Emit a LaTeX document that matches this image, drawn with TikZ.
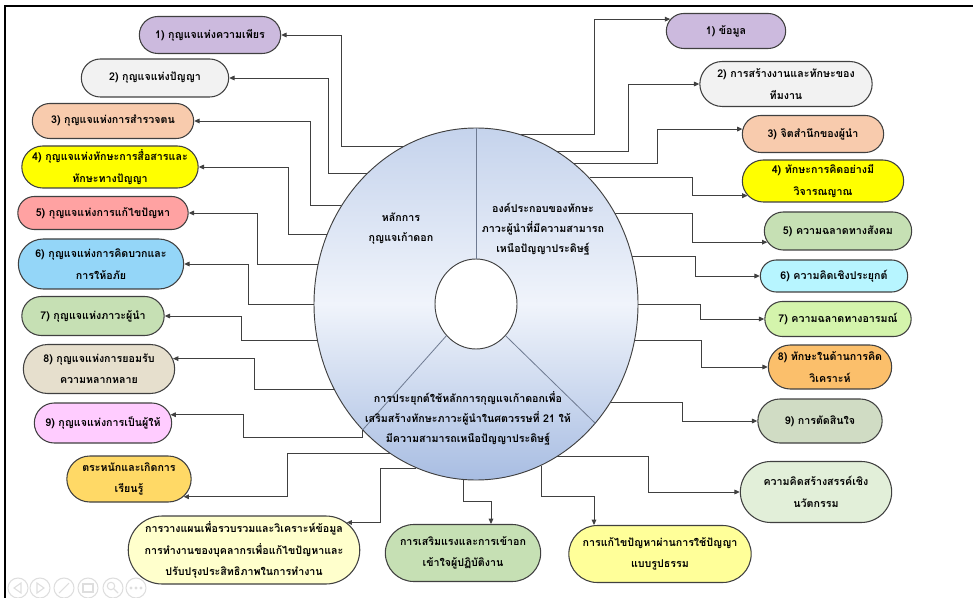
\documentclass[tikz,border=0pt]{standalone}
\usepackage{fontspec}
\setmainfont[Script=Thai]{Loma}
\usetikzlibrary{shapes.geometric,shapes.misc,arrows.meta}

\definecolor{keypurple}{RGB}{204,186,222}
\definecolor{keygray}{RGB}{242,242,242}
\definecolor{keysalmon}{RGB}{248,203,173}
\definecolor{keyyellow}{RGB}{255,255,0}
\definecolor{keyred}{RGB}{255,162,162}
\definecolor{keysky}{RGB}{148,214,248}
\definecolor{keygreen}{RGB}{198,224,180}
\definecolor{keytan}{RGB}{230,223,205}
\definecolor{keypink}{RGB}{255,204,255}
\definecolor{keygold}{RGB}{255,217,102}
\definecolor{keycream}{RGB}{255,255,204}
\definecolor{keylemon}{RGB}{255,255,153}
\definecolor{keymint}{RGB}{226,239,217}
\definecolor{keycyan}{RGB}{183,245,255}
\definecolor{keylime}{RGB}{212,244,172}
\definecolor{keyorange}{RGB}{251,191,107}
\definecolor{keysage}{RGB}{208,220,196}
\definecolor{disktop}{RGB}{197,211,236}
\definecolor{diskmiddle}{RGB}{240,244,251}
\definecolor{diskbottom}{RGB}{168,189,226}
\definecolor{linegray}{RGB}{64,64,64}
\definecolor{controlgray}{RGB}{222,222,222}

\tikzset{
  keybox/.style={rounded rectangle, draw=linegray, line width=0.8pt, fill=#1, align=center, inner sep=1pt,
    font=\fontsize{8}{16}\selectfont\bfseries},
  boxsize/.style 2 args={minimum width=#1*0.75pt, minimum height=#2*0.75pt},
  link/.style={draw=linegray, line width=0.7pt, -{Triangle[length=4pt,width=3.5pt]}},
  divider/.style={draw={rgb,255:red,110;green,122;blue,145}, line width=0.6pt},
  disktext/.style={align=center, inner sep=0pt, font=\fontsize{8}{15}\selectfont\bfseries},
  control/.style={draw=controlgray, line width=0.8pt}
}

\begin{document}
\begin{tikzpicture}[x=0.75pt,y=0.75pt,yscale=-1,xscale=1]
\useasboundingbox (0,0) rectangle (973,598);

%Straight Lines: slide frame
\draw [line width=1.5pt] (5,598) -- (5,6) -- (973,6) ;
%Shape: Circle, slide controls
\foreach \cx in {18,40,64,88,113,136}
  \draw [control] (\cx,588) circle [radius=7.5pt] ;
\draw [control] (21,583) -- (14,588) -- (21,593) -- cycle ;
\draw [control] (37,583) -- (44,588) -- (37,593) -- cycle ;
\draw [control] (59,593) -- (69,583) ;
\draw [control] (83,584) rectangle (93,592) ;
\draw [control] (111,586) circle [radius=2.8pt] (114,589) -- (118,593) ;
\foreach \dx in {131,136,141}
  \fill [controlgray] (\dx,588) circle [radius=1.2pt] ;

%Shape: Ellipse
\node [ellipse, draw=linegray, line width=0.7pt, inner sep=0pt, minimum width=324*0.75pt, minimum height=352*0.75pt,
  top color=disktop, bottom color=diskbottom, middle color=diskmiddle] (disk) at (476,304) {};
%Shape: Circle
\node [ellipse, draw=linegray, line width=0.7pt, fill=white, inner sep=0pt, minimum width=82*0.75pt, minimum height=90*0.75pt] (hole) at (476,304) {};
%Straight Lines
\draw [divider] (disk.north) -- (hole.north) ;
\draw [divider] (hole.227) -- (disk.228) ;
\draw [divider] (hole.313) -- (disk.315) ;

% Text Node
\node [disktext] (keys) at (401,229) {หลักการ\\กุญแจเก้าดอก};
% Text Node
\node [disktext] (parts) at (543,229) {องค์ประกอบของทักษะ\\ภาวะผู้นำที่มีความสามารถ\\เหนือปัญญาประดิษฐ์};
% Text Node
\node [disktext] (apply) at (468,418) {การประยุกต์ใช้หลักการกุญแจเก้าดอกเพื่อ\\เสริมสร้างทักษะภาวะผู้นำในศตวรรษที่ 21 ให้\\มีความสามารถเหนือปัญญาประดิษฐ์};

%Shape: Rounded Rectangle (left)
\node [keybox=keypurple, boxsize={144}{37}] (l1) at (210,35) {1) กุญแจแห่งความเพียร};
\node [keybox=keygray, boxsize={150}{38}] (l2) at (155,78) {2) กุญแจแห่งปัญญา};
\node [keybox=keysalmon, boxsize={164}{35}] (l3) at (113,121) {3) กุญแจแห่งการสำรวจตน};
\node [keybox=keyyellow, boxsize={179}{42}] (l4) at (110,167) {4) กุญแจแห่งทักษะการสื่อสารและ\\ทักษะทางปัญญา};
\node [keybox=keyred, boxsize={173}{33}] (l5) at (103,213) {5) กุญแจแห่งการแก้ไขปัญหา};
\node [keybox=keysky, boxsize={168}{50}] (l6) at (101,264) {6) กุญแจแห่งการคิดบวกและ\\การให้อภัย};
\node [keybox=keygreen, boxsize={145}{39}] (l7) at (93,316) {7) กุญแจแห่งภาวะผู้นำ};
\node [keybox=keytan, boxsize={154}{49}] (l8) at (99,369) {8) กุญแจแห่งการยอมรับ\\ความหลากหลาย};
\node [keybox=keypink, boxsize={140}{40}] (l9) at (103,423) {9) กุญแจแห่งการเป็นผู้ให้};
\node [keybox=keygold, boxsize={127}{46}] (l10) at (129,479) {ตระหนักและเกิดการ\\เรียนรู้};
\node [keybox=keycream, boxsize={231}{68}] (l11) at (244,550) {การวางแผนเพื่อรวบรวมและวิเคราะห์ข้อมูล\\การทำงานของบุคลากรเพื่อแก้ไขปัญหาและ\\ปรับปรุงประสิทธิภาพในการทำงาน};
%Shape: Rounded Rectangle (bottom)
\node [keybox=keygreen, boxsize={158}{57}] (b12) at (463,553) {การเสริมแรงและการเข้าอก\\เข้าใจผู้ปฏิบัติงาน};
\node [keybox=keylemon, boxsize={185}{57}] (b13) at (660,554) {การแก้ไขปัญหาผ่านการใช้ปัญญา\\แบบรูปธรรม};
\node [keybox=keymint, boxsize={154}{61}] (b14) at (816,492) {ความคิดสร้างสรรค์เชิง\\นวัตกรรม};
%Shape: Rounded Rectangle (right)
\node [keybox=keypurple, boxsize={122}{35}] (r1) at (726,31) {1) ข้อมูล};
\node [keybox=keygray, boxsize={175}{45}] (r2) at (786,84) {2) การสร้างงานและทักษะของ\\ทีมงาน};
\node [keybox=keysalmon, boxsize={144}{37}] (r3) at (813,134) {3) จิตสำนึกของผู้นำ};
\node [keybox=keyyellow, boxsize={164}{42}] (r4) at (823,181) {4) ทักษะการคิดอย่างมี\\วิจารณญาณ};
\node [keybox=keygreen, boxsize={150}{38}] (r5) at (838,231) {5) ความฉลาดทางสังคม};
\node [keybox=keycyan, boxsize={150}{32}] (r6) at (834,276) {6) ความคิดเชิงประยุกต์};
\node [keybox=keylime, boxsize={149}{35}] (r7) at (838,319) {7) ความฉลาดทางอารมณ์};
\node [keybox=keyorange, boxsize={126}{44}] (r8) at (830,367) {8) ทักษะในด้านการคิด\\วิเคราะห์};
\node [keybox=keysage, boxsize={127}{44}] (r9) at (820,421) {9) การตัดสินใจ};

%Straight Lines (left)
\draw [link] (disk.115) -- (disk.115 -| 341,0) |- (l1.east) ;
\draw [link] (disk.130) -- (disk.130 -| 328,0) |- (l2.east) ;
\draw [link] (disk.144) -- (disk.144 -| 310,0) |- (l3.east) ;
\draw [link] (disk.155) -- (disk.155 -| 288,0) |- (l4.east) ;
\draw [link] (disk.166) -- (disk.166 -| 257,0) |- (l5.east) ;
\draw [link] (disk.west) -- (disk.west -| 248,0) |- (l6.east) ;
\draw [link] (disk.193) -- (disk.193 -| 241,0) |- (l7.east) ;
\draw [link] (disk.211) -- (disk.211 -| 254,0) |- (l8.8) ;
\draw [link] (disk.228) |- (243,437) |- (l9.7) ;
\draw [link] (disk.240) -- (disk.240 -| 287,0) |- (l10.342) ;
\draw [link] (disk.250) -- (disk.250 -| 380,0) |- (l11.15) ;
%Straight Lines (bottom)
\draw [link] (disk.266) |- (491,501) -- (b12.north -| 491,0) ;
\draw [link] (disk.292) |- (594,496) -- (b13.north -| 594,0) ;
\draw [link] (disk.298) -- (disk.298 -| 648,0) |- (b14.west) ;
%Straight Lines (right)
\draw [link] (disk.75) -- (disk.75 -| 594,0) |- (r1.168) ;
\draw [link] (disk.62) -- (disk.62 -| 628,0) |- (r2.west) ;
\draw [link] (disk.55) -- (disk.55 -| 657,0) |- (r3.176) ;
\draw [link] (disk.48) -- (disk.48 -| 692,0) |- (r4.191) ;
\draw [link] (disk.33) -- (disk.33 -| 692,0) |- (r5.189) ;
\draw [link] (disk.17) -- (disk.17 -| 695,0) |- (r6.west) ;
\draw [link] (disk.east) -- (disk.east -| 700,0) |- (r7.west) ;
\draw [link] (disk.347) -- (disk.347 -| 701,0) |- (r8.west) ;
\draw [link] (disk.324) -- (disk.324 -| 682,0) |- (r9.west) ;

\end{tikzpicture}
\end{document}
